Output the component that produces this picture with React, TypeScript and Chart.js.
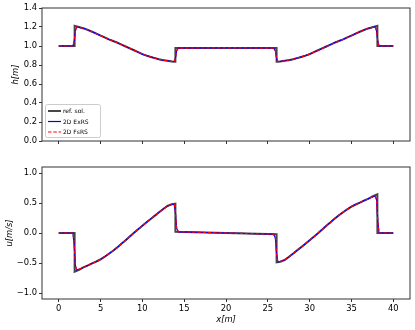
import React, { useEffect, useRef } from "react";
import { Chart, registerables } from "chart.js";

Chart.register(...registerables);

// ---- data ----
const xTicks = [0, 5, 10, 15, 20, 25, 30, 35, 40];
const hTicks = [0, 0.2, 0.4, 0.6, 0.8, 1.0, 1.2, 1.4];
const uTicks = [-1, -0.5, 0, 0.5, 1];

const seriesLabels = ["ref. sol.", "2D ExRS", "2D FsRS"];

// reference solution
const refX = [0, 1.9, 1.9,
  2.5, 3, 3.5, 4, 4.5, 5, 5.5, 6, 6.5, 7, 7.5, 8, 8.5, 9, 9.5, 10, 10.5, 11, 11.5, 12, 12.5, 13, 13.5,
  13.95, 13.95, 20, 26.05, 26.05,
  26.5, 27, 27.5, 28, 28.5, 29, 29.5, 30, 30.5, 31, 31.5, 32, 32.5, 33, 33.5, 34, 34.5, 35, 35.5, 36, 36.5, 37, 37.5,
  38.1, 38.1, 40];
const refH = [1.0, 1.0, 1.212,
  1.198, 1.185, 1.168, 1.15, 1.13, 1.11, 1.09, 1.07, 1.053, 1.035, 1.015, 0.995, 0.975, 0.955, 0.935, 0.915, 0.899, 0.885, 0.872, 0.86, 0.851, 0.845, 0.838,
  0.835, 0.98, 0.98, 0.98, 0.835,
  0.838, 0.845, 0.851, 0.86, 0.872, 0.885, 0.899, 0.915, 0.935, 0.955, 0.975, 0.995, 1.015, 1.035, 1.053, 1.07, 1.09, 1.11, 1.13, 1.15, 1.168, 1.185, 1.198,
  1.212, 1.0, 1.0];
const refU = [0, 0, -0.645,
  -0.61, -0.57, -0.54, -0.505, -0.475, -0.44, -0.395, -0.345, -0.295, -0.24, -0.18, -0.12, -0.058, 0.005, 0.063, 0.12, 0.178, 0.235, 0.29, 0.345, 0.4, 0.45, 0.478,
  0.49, 0.02, 0.0, -0.02, -0.49,
  -0.478, -0.45, -0.4, -0.345, -0.29, -0.235, -0.178, -0.12, -0.063, -0.005, 0.058, 0.12, 0.18, 0.24, 0.295, 0.345, 0.395, 0.44, 0.475, 0.505, 0.54, 0.57, 0.61,
  0.645, 0, 0];

// numerical schemes
const numX = [0, 1.7, 1.85, 2.0, 2.15,
  2.5, 3, 3.5, 4, 4.5, 5, 5.5, 6, 6.5, 7, 7.5, 8, 8.5, 9, 9.5, 10, 10.5, 11, 11.5, 12, 12.5, 13, 13.5,
  13.8, 13.95, 14.1, 14.3, 20, 25.7, 25.9, 26.05, 26.2,
  26.5, 27, 27.5, 28, 28.5, 29, 29.5, 30, 30.5, 31, 31.5, 32, 32.5, 33, 33.5, 34, 34.5, 35, 35.5, 36, 36.5, 37, 37.5,
  37.85, 38.0, 38.15, 38.3, 40];
const exrsH = [1.0, 1.0, 1.05, 1.16, 1.2,
  1.196, 1.185, 1.168, 1.15, 1.13, 1.11, 1.09, 1.07, 1.053, 1.035, 1.015, 0.995, 0.975, 0.955, 0.935, 0.915, 0.899, 0.885, 0.872, 0.86, 0.851, 0.845, 0.838,
  0.836, 0.87, 0.95, 0.978, 0.98, 0.978, 0.95, 0.87, 0.836,
  0.838, 0.845, 0.851, 0.86, 0.872, 0.885, 0.899, 0.915, 0.935, 0.955, 0.975, 0.995, 1.015, 1.035, 1.053, 1.07, 1.09, 1.11, 1.13, 1.15, 1.168, 1.185, 1.196,
  1.2, 1.16, 1.05, 1.0, 1.0];
const exrsU = [0, 0, -0.2, -0.55, -0.615,
  -0.6, -0.57, -0.54, -0.505, -0.475, -0.44, -0.395, -0.345, -0.295, -0.24, -0.18, -0.12, -0.058, 0.005, 0.063, 0.12, 0.178, 0.235, 0.29, 0.345, 0.4, 0.45, 0.475,
  0.48, 0.35, 0.08, 0.02, 0.0, -0.02, -0.08, -0.35, -0.48,
  -0.475, -0.45, -0.4, -0.345, -0.29, -0.235, -0.178, -0.12, -0.063, -0.005, 0.058, 0.12, 0.18, 0.24, 0.295, 0.345, 0.395, 0.44, 0.475, 0.505, 0.54, 0.57, 0.6,
  0.615, 0.55, 0.2, 0, 0];
const fsrsH = [1.0, 1.0, 1.05, 1.16, 1.2,
  1.196, 1.185, 1.168, 1.15, 1.13, 1.11, 1.09, 1.07, 1.053, 1.035, 1.015, 0.995, 0.975, 0.955, 0.935, 0.915, 0.899, 0.885, 0.872, 0.86, 0.851, 0.845, 0.838,
  0.836, 0.87, 0.95, 0.978, 0.98, 0.978, 0.95, 0.87, 0.836,
  0.838, 0.845, 0.851, 0.86, 0.872, 0.885, 0.899, 0.915, 0.935, 0.955, 0.975, 0.995, 1.015, 1.035, 1.053, 1.07, 1.09, 1.11, 1.13, 1.15, 1.168, 1.185, 1.196,
  1.2, 1.16, 1.05, 1.0, 1.0];
const fsrsU = [0, 0, -0.2, -0.55, -0.615,
  -0.6, -0.57, -0.54, -0.505, -0.475, -0.44, -0.395, -0.345, -0.295, -0.24, -0.18, -0.12, -0.058, 0.005, 0.063, 0.12, 0.178, 0.235, 0.29, 0.345, 0.4, 0.45, 0.475,
  0.48, 0.35, 0.08, 0.02, 0.0, -0.02, -0.08, -0.35, -0.48,
  -0.475, -0.45, -0.4, -0.345, -0.29, -0.235, -0.178, -0.12, -0.063, -0.005, 0.058, 0.12, 0.18, 0.24, 0.295, 0.345, 0.395, 0.44, 0.475, 0.505, 0.54, 0.57, 0.6,
  0.615, 0.55, 0.2, 0, 0];

const FONT = "'DejaVu Sans', sans-serif";
const AX = "#333333";

const toPts = (xs: number[], ys: number[]) => xs.map((x, i) => ({ x, y: ys[i] }));

const framePlugin = {
  id: "frame",
  afterDraw(chart: any, _args: any, opts: any) {
    const { ctx, chartArea: a } = chart;
    ctx.save();
    ctx.strokeStyle = AX;
    ctx.lineWidth = 1;
    ctx.setLineDash([]);
    ctx.strokeRect(a.left, a.top, a.right - a.left, a.bottom - a.top);
    if (opts && opts.legend) {
      const x0 = a.left + 3;
      const y0 = a.bottom - 37;
      const w = 55;
      const h = 33;
      ctx.beginPath();
      ctx.roundRect(x0 + 0.5, y0 + 0.5, w, h, 2);
      ctx.fillStyle = "rgba(255,255,255,0.8)";
      ctx.fill();
      ctx.strokeStyle = "#cccccc";
      ctx.lineWidth = 1;
      ctx.stroke();
      ctx.font = "6px " + FONT;
      ctx.textBaseline = "middle";
      ctx.textAlign = "left";
      chart.data.datasets.forEach((ds: any, i: number) => {
        const y = y0 + 7 + i * 10.5;
        ctx.beginPath();
        ctx.strokeStyle = ds.borderColor;
        ctx.lineWidth = ds.borderWidth;
        ctx.setLineDash(ds.borderDash || []);
        ctx.moveTo(x0 + 3, y);
        ctx.lineTo(x0 + 16, y);
        ctx.stroke();
        ctx.setLineDash([]);
        ctx.fillStyle = "#000";
        ctx.fillText(ds.label, x0 + 18, y + 0.5);
      });
    }
    ctx.restore();
  },
};

function buildConfig(p: {
  refY: number[];
  exY: number[];
  fsY: number[];
  yMin: number;
  yMax: number;
  yTicks: number[];
  yTitle: string;
  yTitlePad: number;
  showX: boolean;
  padTop: number;
  xAxisH: number;
  legend: boolean;
  minus: boolean;
}): any {
  const tickFont = { family: FONT, size: 8.4 };
  const titleFont = { family: FONT, size: 8.4, style: "italic" as const };
  return {
    type: "line",
    data: {
      datasets: [
        {
          label: seriesLabels[0],
          data: toPts(refX, p.refY),
          borderColor: "rgba(0,0,0,0.72)",
          borderWidth: 2,
          pointRadius: 0,
          tension: 0,
          fill: false,
          order: 3,
        },
        {
          label: seriesLabels[1],
          data: toPts(numX, p.exY),
          borderColor: "#0000ff",
          borderWidth: 1.2,
          pointRadius: 0,
          tension: 0,
          fill: false,
          order: 2,
        },
        {
          label: seriesLabels[2],
          data: toPts(numX, p.fsY),
          borderColor: "#ff0000",
          borderWidth: 1.2,
          borderDash: [3.5, 1.8],
          pointRadius: 0,
          tension: 0,
          fill: false,
          order: 1,
        },
      ],
    },
    options: {
      responsive: false,
      animation: false,
      devicePixelRatio: 1,
      layout: { padding: { top: p.padTop, right: 5, left: 0, bottom: 0 } },
      plugins: {
        legend: { display: false },
        tooltip: { enabled: false },
        frame: { legend: p.legend },
      },
      scales: {
        x: {
          type: "linear",
          min: -2,
          max: 42,
          afterBuildTicks: (s: any) => {
            s.ticks = xTicks.map((v) => ({ value: v }));
          },
          afterFit: (s: any) => {
            s.height = p.xAxisH;
          },
          ticks: {
            display: p.showX,
            autoSkip: false,
            maxRotation: 0,
            padding: 2,
            color: "#000",
            font: tickFont,
            callback: (v: any) => String(v),
          },
          grid: { display: true, drawOnChartArea: false, drawTicks: true, tickLength: 3, color: AX, lineWidth: 1 },
          border: { display: false },
          title: {
            display: p.showX,
            text: "x[m]",
            color: "#000",
            font: titleFont,
            padding: { top: 0, bottom: 5 },
          },
        },
        y: {
          type: "linear",
          min: p.yMin,
          max: p.yMax,
          afterBuildTicks: (s: any) => {
            s.ticks = p.yTicks.map((v) => ({ value: v }));
          },
          afterFit: (s: any) => {
            s.width = 42;
          },
          ticks: {
            autoSkip: false,
            padding: 2,
            color: "#000",
            font: tickFont,
            callback: (v: any) => {
              const t = Number(v).toFixed(1);
              return p.minus ? t.replace("-", "\u2212") : t;
            },
          },
          grid: { display: true, drawOnChartArea: false, drawTicks: true, tickLength: 3, color: AX, lineWidth: 1 },
          border: { display: false },
          title: {
            display: true,
            text: p.yTitle,
            color: "#000",
            font: titleFont,
            padding: { top: p.yTitlePad, bottom: 0 },
          },
        },
      },
    },
    plugins: [framePlugin],
  };
}

export default function App() {
  const topRef = useRef<HTMLCanvasElement>(null);
  const botRef = useRef<HTMLCanvasElement>(null);

  useEffect(() => {
    const c1 = new Chart(
      topRef.current as HTMLCanvasElement,
      buildConfig({
        refY: refH,
        exY: exrsH,
        fsY: fsrsH,
        yMin: 0,
        yMax: 1.4,
        yTicks: hTicks,
        yTitle: "h[m]",
        yTitlePad: 11,
        showX: false,
        padTop: 8,
        xAxisH: 9,
        legend: true,
        minus: false,
      })
    );
    const c2 = new Chart(
      botRef.current as HTMLCanvasElement,
      buildConfig({
        refY: refU,
        exY: exrsU,
        fsY: fsrsU,
        yMin: -1.1,
        yMax: 1.1,
        yTicks: uTicks,
        yTitle: "u[m/s]",
        yTitlePad: 5,
        showX: true,
        padTop: 17,
        xAxisH: 31,
        legend: false,
        minus: true,
      })
    );
    return () => {
      c1.destroy();
      c2.destroy();
    };
  }, []);

  return (
    <div style={{ position: "fixed", left: 0, top: 0, width: 415, height: 330, background: "#fff" }}>
      <canvas
        ref={topRef}
        width={415}
        height={150}
        style={{ position: "absolute", left: 0, top: 0, width: 415, height: 150 }}
      />
      <canvas
        ref={botRef}
        width={415}
        height={180}
        style={{ position: "absolute", left: 0, top: 150, width: 415, height: 180 }}
      />
    </div>
  );
}
